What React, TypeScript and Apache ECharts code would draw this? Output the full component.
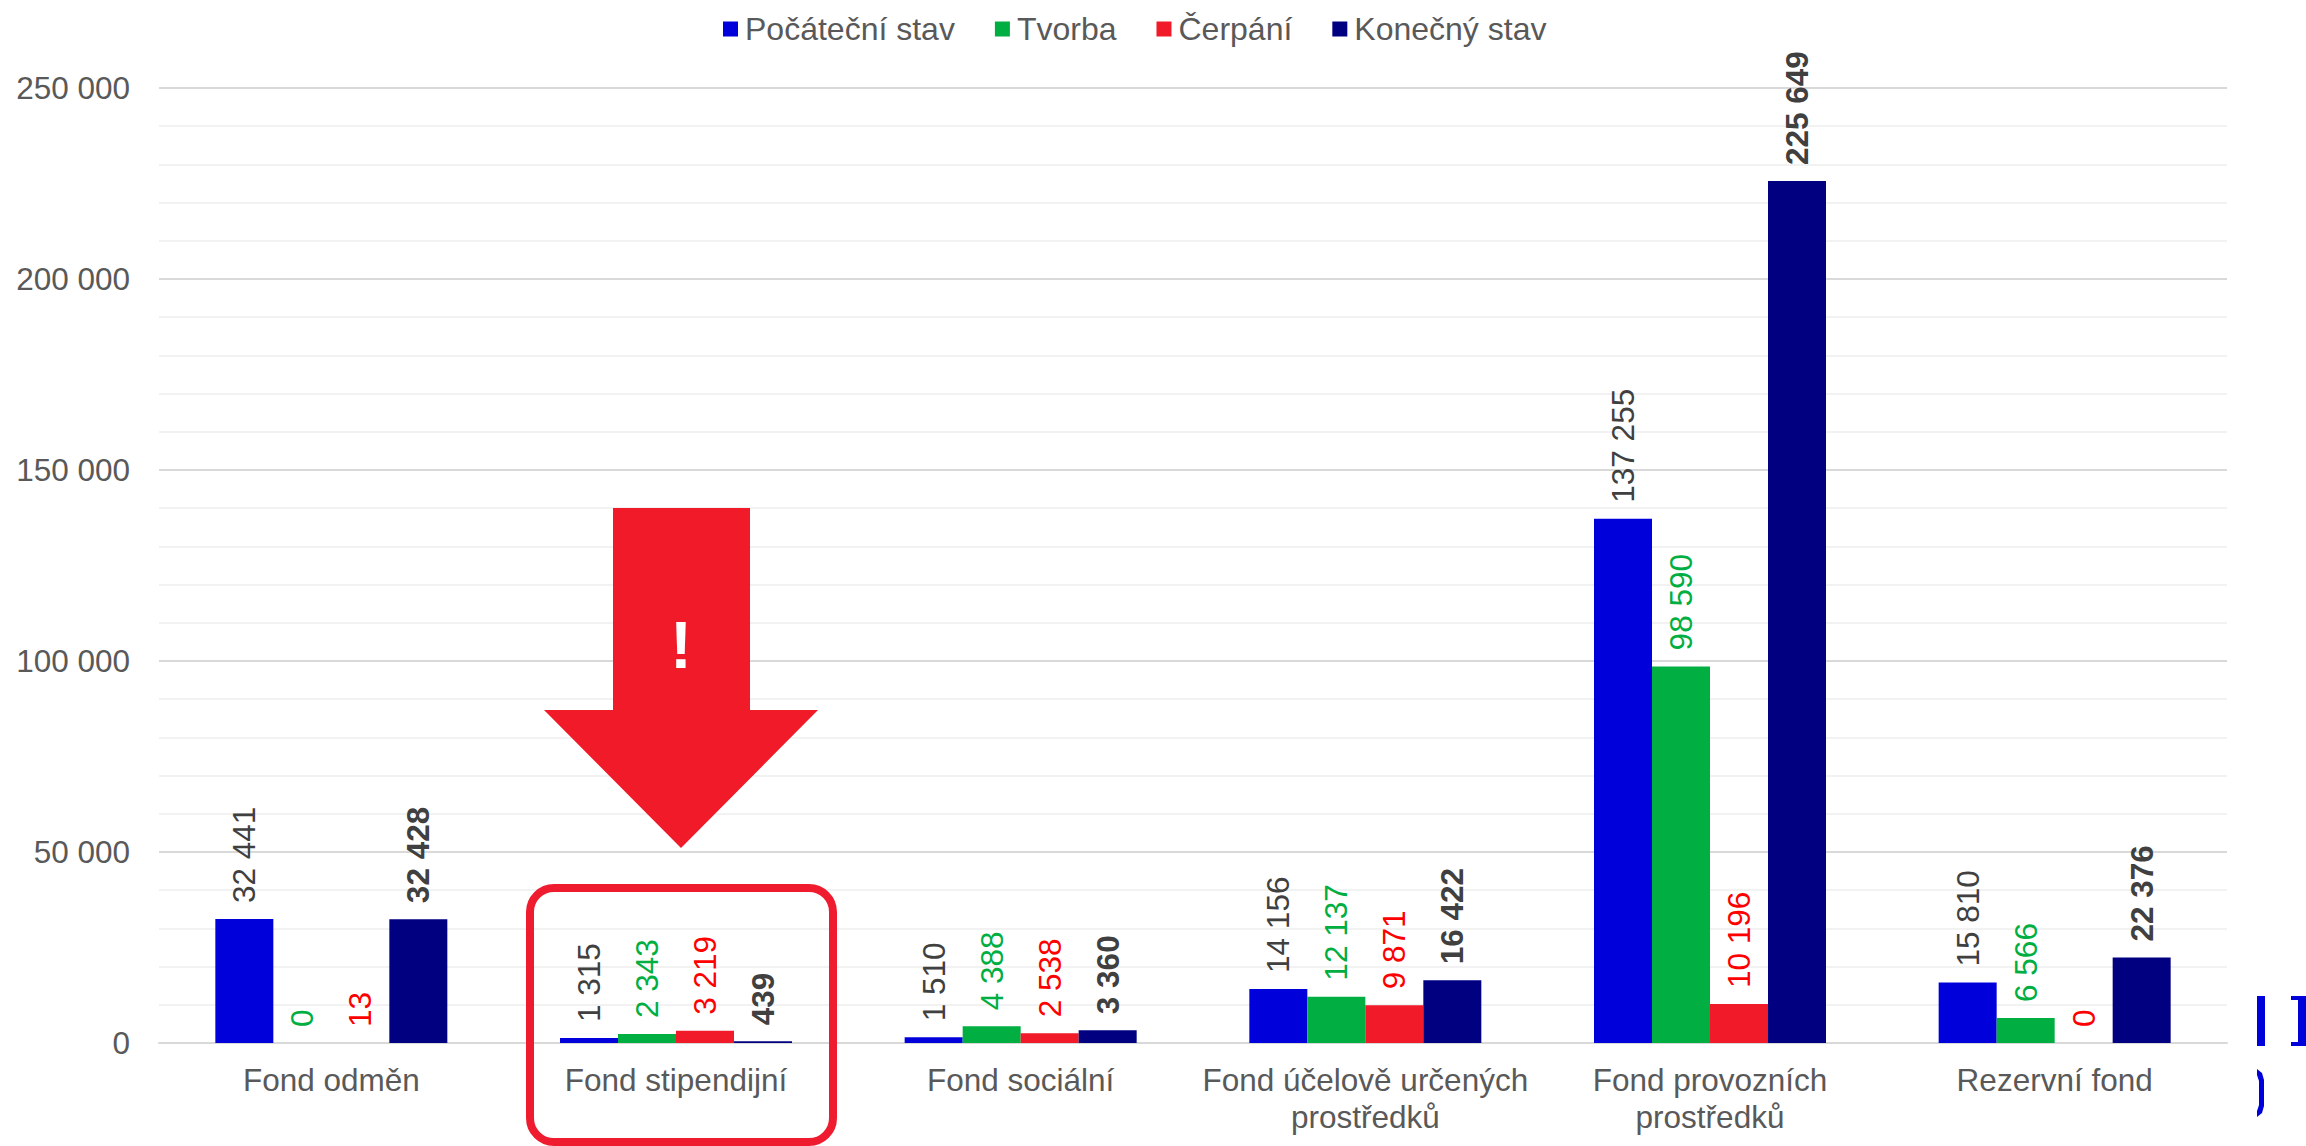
import React, { useEffect, useRef } from "react";
import * as echarts from "echarts";

const categories = ["Fond odměn", "Fond stipendijní", "Fond sociální", "Fond účelově určených\nprostředků", "Fond provozních\nprostředků", "Rezervní fond"];
const pocatecni = [32441, 1315, 1510, 14156, 137255, 15810];
const tvorba = [0, 2343, 4388, 12137, 98590, 6566];
const cerpani = [13, 3219, 2538, 9871, 10196, 0];
const konecny = [32428, 439, 3360, 16422, 225649, 22376];
const W = 2306, H = 1146;
const fmt = (v: number) => String(v).replace(/\B(?=(\d{3})+(?!\d))/g, " ");
const FONT = "Liberation Sans";

function bar(name: string, data: number[], color: string, labelColor: string, bold = false) {
  return {
    name, type: "bar", data, barWidth: 58, barGap: "0%",
    itemStyle: { color },
    label: {
      show: true, position: "top", rotate: 90, distance: 16, align: "left", verticalAlign: "middle",
      color: labelColor, fontSize: 31.5, fontFamily: FONT, fontWeight: bold ? "bold" : "normal",
      formatter: (p: any) => fmt(p.value),
    },
  };
}

export default function App() {
  const ref = useRef<HTMLDivElement>(null);
  useEffect(() => {
    const chart = echarts.init(ref.current!, undefined, { renderer: "svg" });
    chart.setOption({
      animation: false,
      backgroundColor: "#fff",
      textStyle: { fontFamily: FONT },
      legend: {
        top: 8, left: 718, itemWidth: 15, itemHeight: 15, itemGap: 40, icon: "rect",
        textStyle: { fontSize: 32, color: "#595959", fontFamily: FONT, padding: [0, 0, 0, 2] },
      },
      grid: { left: 159, right: 79, top: 88, bottom: 103, outerBoundsMode: "none" },
      xAxis: {
        type: "category", data: categories,
        axisTick: { show: false },
        axisLine: { lineStyle: { color: "#d9d9d9", width: 2 } },
        axisLabel: { fontSize: 31.5, color: "#595959", fontFamily: FONT, margin: 18, lineHeight: 37, interval: 0 },
      },
      yAxis: {
        type: "value", min: 0, max: 250000, interval: 50000,
        axisLine: { show: false }, axisTick: { show: false },
        axisLabel: { fontSize: 31.5, color: "#595959", fontFamily: FONT, margin: 29, formatter: (v: number) => fmt(v) },
        splitLine: { lineStyle: { color: "#d9d9d9", width: 2 } },
        minorTick: { show: false, splitNumber: 5 },
        minorSplitLine: { show: true, lineStyle: { color: "#f2f2f2", width: 2 } },
      },
      series: [
        bar("Počáteční stav", pocatecni, "#0000db", "#404040"),
        bar("Tvorba", tvorba, "#00ae42", "#00ae42"),
        bar("Čerpání", cerpani, "#f01a29", "#ff0000"),
        bar("Konečný stav", konecny, "#000080", "#404040", true),
      ],
      graphic: [
        { type: "polygon", z: 100, shape: { points: [[613, 508], [750, 508], [750, 710], [818, 710], [681, 848], [544, 710], [613, 710]] }, style: { fill: "#f01a29" } },
        { type: "text", z: 101, x: 681, y: 645, style: { text: "!", fill: "#fff", font: `bold 66px ${FONT}`, textAlign: "center", textVerticalAlign: "middle" } },
        { type: "rect", z: 100, shape: { x: 530, y: 888, width: 303, height: 254, r: 24 }, style: { fill: "none", stroke: "#ee1c2e", lineWidth: 8 } },
        { type: "rect", z: 100, shape: { x: 2257, y: 996, width: 8, height: 50 }, style: { fill: "#0000db" } },
        { type: "polygon", z: 100, shape: { points: [[2291, 996], [2306, 996], [2306, 1046], [2291, 1046], [2291, 1042], [2298, 1042], [2298, 1000], [2291, 1000]] }, style: { fill: "#0000db" } },
        { type: "polygon", z: 100, shape: { points: [[2257, 1069], [2262, 1073], [2264, 1080], [2264, 1106], [2262, 1113], [2257, 1117], [2257, 1111], [2259, 1105], [2259, 1081], [2257, 1075]] }, style: { fill: "#0000db" } },
      ],
    });
    return () => chart.dispose();
  }, []);
  return <div ref={ref} style={{ position: "absolute", left: 0, top: 0, width: W, height: H }} />;
}
